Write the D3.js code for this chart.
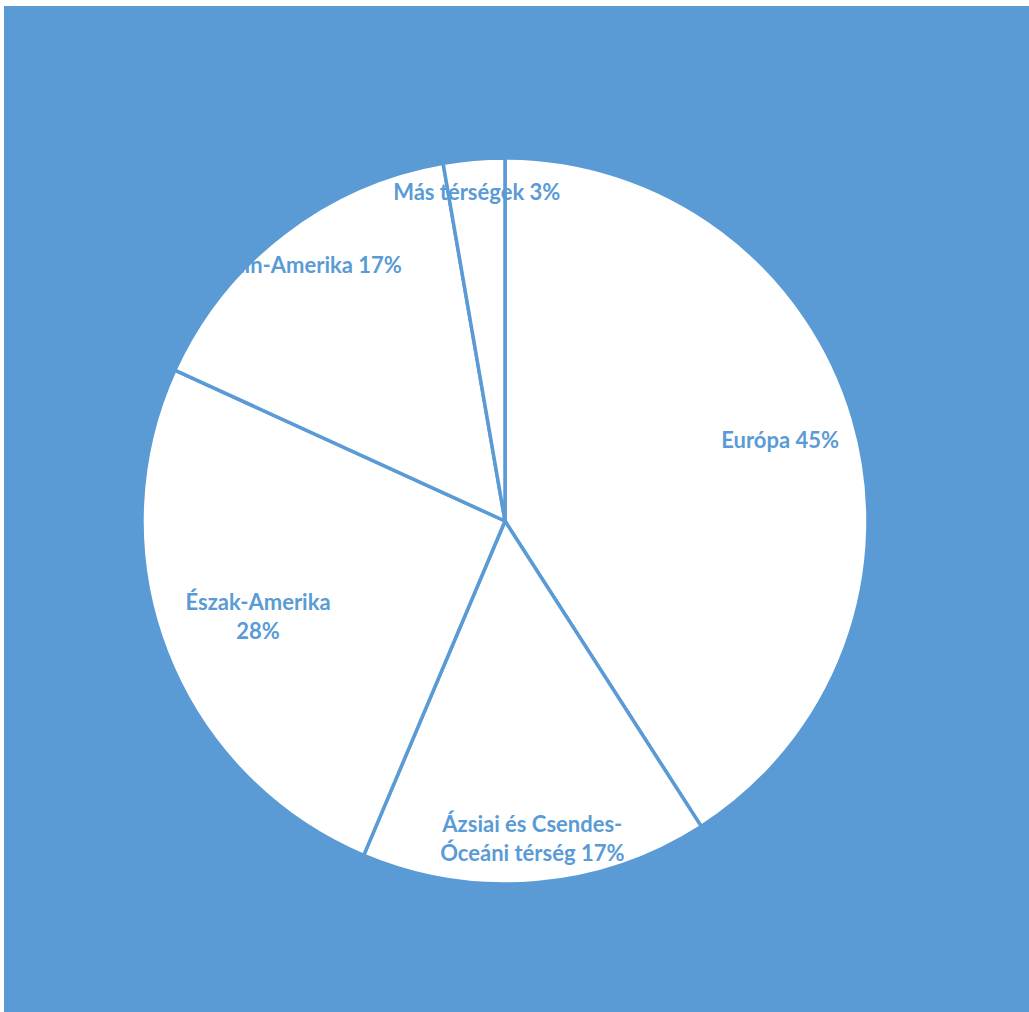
<!DOCTYPE html>
<html>
<head>
<meta charset="utf-8">
<script src="https://cdn.jsdelivr.net/npm/d3@7"></script>
<style>
  html, body { margin: 0; padding: 0; background: #fff; }
</style>
</head>
<body>
<div id="chart"></div>
<script>
// Régiók megoszlása (kördiagram)
const categories = ["Európa", "Ázsiai és Csendes-Óceáni térség", "Észak-Amerika", "Latin-Amerika", "Más térségek"];
const values = [45, 17, 28, 17, 3];
// címkék sortörései, ahogy az eredetin
const labelLines = [
    ["Európa 45%"],
    ["Ázsiai és Csendes-", "Óceáni térség 17%"],
    ["Észak-Amerika", "28%"],
    ["Latin-Amerika 17%"],
    ["Más térségek 3%"]
];

const width = 1029, height = 1012;
const blue = "#5b9bd5";
const cx = 505, cy = 521, radius = 363;
// címke távolsága a középponttól (a sugár arányában)
const labelR = [0.79, 0.88, 0.73, 0.89, 0.91];

const svg = d3.select("#chart").append("svg")
    .attr("width", width)
    .attr("height", height);

svg.append("rect")
    .attr("x", 4).attr("y", 6)
    .attr("width", width).attr("height", height)
    .attr("fill", blue);

const pie = d3.pie().sort(null).value(d => d)(values);
const arc = d3.arc().innerRadius(0).outerRadius(radius);

const g = svg.append("g").attr("transform", `translate(${cx},${cy})`);

g.selectAll("path")
    .data(pie)
    .enter().append("path")
    .attr("d", arc)
    .attr("fill", "#fff")
    .attr("stroke", blue)
    .attr("stroke-width", 3.5)
    .attr("stroke-linejoin", "round");

const lineH = 29;
const labels = g.selectAll("text.lbl")
    .data(pie)
    .enter().append("text")
    .attr("class", "lbl")
    .attr("transform", (d, i) => {
        const r = radius * labelR[i];
        const [x, y] = d3.arc().innerRadius(r).outerRadius(r).centroid(d);
        return `translate(${x},${y})`;
    })
    .attr("text-anchor", "middle")
    .attr("fill", blue)
    .style("font-family", "Lato, 'Open Sans', sans-serif")
    .style("font-weight", "bold")
    .style("font-size", "22px");

labels.each(function(d, i) {
    const lines = labelLines[i];
    const t = d3.select(this);
    lines.forEach((s, k) => {
        t.append("tspan")
            .attr("x", 0)
            .attr("y", (k - (lines.length - 1) / 2) * lineH)
            .attr("dy", "0.35em")
            .text(s);
    });
});
</script>
</body>
</html>
